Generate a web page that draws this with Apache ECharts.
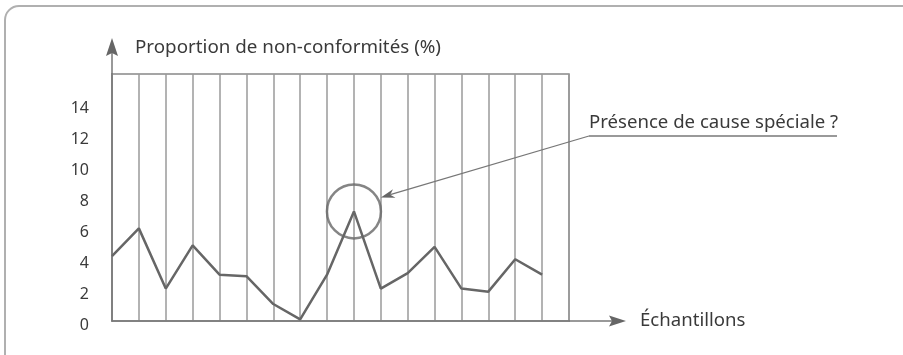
<!DOCTYPE html>
<html>
<head>
<meta charset="utf-8">
<script src="https://cdn.jsdelivr.net/npm/echarts@6/dist/echarts.min.js"></script>
<style>
html,body{margin:0;padding:0;background:#fff;}
#chart{width:903px;height:355px;}
</style>
</head>
<body>
<div id="chart"></div>
<script>
// ---- data ----
const samples = [0,1,2,3,4,5,6,7,8,9,10,11,12,13,14,15,16];
const proportion = [4.2,6.0,2.1,4.9,3.0,2.9,1.1,0.1,3.0,7.1,2.1,3.1,4.8,2.1,1.9,4.0,3.0];
const yTicks = [0,2,4,6,8,10,12,14];
const yTitle = 'Proportion de non-conformités (%)';
const xTitle = 'Échantillons';
const noteText = 'Présence de cause spéciale ?';
const specialIndex = 9;
const noteTip = [10, 8];

const FONT = '"Noto Sans", "Open Sans", sans-serif';
const TXT = '#3a3a3a';
const LINE = '#666';
const GRIDC = '#9a9a9a';

const chart = echarts.init(document.getElementById('chart'), null, {renderer:'canvas'});

const option = {
  animation:false,
  backgroundColor:'#fff',
  grid:{left:112, top:74, width:457, height:247, show:true, borderColor:'#888', borderWidth:1.5},
  xAxis:{
    type:'value', min:0, max:17, interval:1,
    axisLine:{show:true, lineStyle:{color:'#777', width:1.5}},
    axisTick:{show:false}, axisLabel:{show:false},
    splitLine:{show:true, lineStyle:{color:GRIDC, width:1.5}}
  },
  yAxis:{
    type:'value', min:0, max:16, interval:2,
    axisLine:{show:true, lineStyle:{color:'#777', width:1.5}},
    axisTick:{show:false},
    splitLine:{show:false},
    axisLabel:{
      margin:23, fontFamily:FONT, fontSize:16, color:TXT,
      verticalAlign:'top', lineHeight:8,
      formatter:v => yTicks.indexOf(v) >= 0 ? String(v) : ''
    }
  },
  series:[
    {
      type:'line', data:samples.map((s,i)=>[s,proportion[i]]),
      symbol:'none', lineStyle:{color:LINE, width:2.5}, z:3
    },
    {
      type:'scatter', data:[[samples[specialIndex], proportion[specialIndex]]],
      symbol:'circle', symbolSize:54,
      itemStyle:{color:'rgba(0,0,0,0)', borderColor:LINE, borderWidth:2.5}, z:4, silent:true
    }
  ]
};
chart.setOption(option);

const p0 = chart.convertToPixel({gridIndex:0},[0,0]);
const pEnd = chart.convertToPixel({gridIndex:0},[17,16]);
const tip = chart.convertToPixel({gridIndex:0}, noteTip);

// leader line geometry
const start = [589,136];
const dx = tip[0]-start[0], dy = tip[1]-start[1];
const L = Math.hypot(dx,dy); const ux = dx/L, uy = dy/L;
const ah = 14, aw = 4.5;
const bx = tip[0]-ah*ux, by = tip[1]-ah*uy;
const nx = -uy*aw, ny = ux*aw;
const notch = [tip[0]-ah*0.7*ux, tip[1]-ah*0.7*uy];

chart.setOption({
  graphic:[
    {type:'rect', shape:{x:5, y:6, width:940, height:420, r:14}, style:{fill:'none', stroke:'#b0b0b0', lineWidth:2}, silent:true},
    // y axis extension with arrow
    {type:'line', shape:{x1:p0[0], y1:pEnd[1], x2:p0[0], y2:pEnd[1]-24}, style:{stroke:'#777', lineWidth:1.5}},
    {type:'polygon', shape:{points:[[p0[0],pEnd[1]-36],[p0[0]-6,pEnd[1]-18],[p0[0],pEnd[1]-21],[p0[0]+6,pEnd[1]-18]]}, style:{fill:'#666'}},
    // x axis extension with arrow
    {type:'line', shape:{x1:pEnd[0], y1:p0[1], x2:pEnd[0]+45, y2:p0[1]}, style:{stroke:'#777', lineWidth:1.5}},
    {type:'polygon', shape:{points:[[pEnd[0]+57,p0[1]],[pEnd[0]+40,p0[1]-5.5],[pEnd[0]+43,p0[1]],[pEnd[0]+40,p0[1]+5.5]]}, style:{fill:'#666'}},
    // titles
    {type:'text', x:135, y:48, style:{text:yTitle, font:'18.8px '+FONT, fill:TXT, verticalAlign:'middle', align:'left'}},
    {type:'text', x:640, y:p0[1], style:{text:xTitle, font:'18.6px '+FONT, fill:TXT, verticalAlign:'middle', align:'left'}},
    // annotation
    {type:'text', x:589, y:123, style:{text:noteText, font:'18.6px '+FONT, fill:TXT, verticalAlign:'middle', align:'left'}},
    {type:'line', shape:{x1:589, y1:136, x2:837, y2:136}, style:{stroke:'#777', lineWidth:1.5}},
    {type:'line', shape:{x1:start[0], y1:start[1], x2:notch[0], y2:notch[1]}, style:{stroke:'#777', lineWidth:1.3}},
    {type:'polygon', shape:{points:[tip,[bx+nx,by+ny],notch,[bx-nx,by-ny]]}, style:{fill:'#666'}}
  ]
});
</script>
</body>
</html>
